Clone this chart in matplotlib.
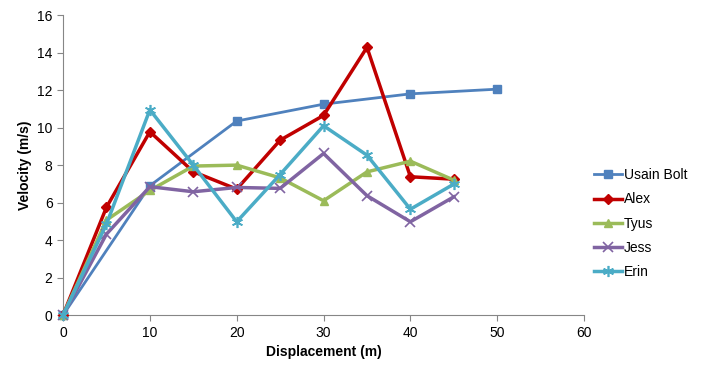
import matplotlib
matplotlib.use("Agg")
import matplotlib.pyplot as plt

plt.rcParams['font.family'] = ['Liberation Sans', 'DejaVu Sans']

bolt_x = [0, 10, 20, 30, 40, 50]
bolt_y = [0, 6.9, 10.35, 11.25, 11.8, 12.05]
others_x = [0, 5, 10, 15, 20, 25, 30, 35, 40, 45]
alex_y = [0, 5.75, 9.78, 7.65, 6.72, 9.33, 10.65, 14.28, 7.38, 7.25]
tyus_y = [0, 5.07, 6.65, 7.95, 8.0, 7.32, 6.1, 7.64, 8.21, 7.2]
jess_y = [0, 4.32, 6.85, 6.58, 6.81, 6.76, 8.62, 6.37, 4.98, 6.31]
erin_y = [0, 4.85, 10.95, 8.0, 4.98, 7.5, 10.1, 8.53, 5.65, 6.99]

fig = plt.figure(figsize=(7.08, 3.77), dpi=100)
ax = fig.add_axes([0.089, 0.164, 0.736, 0.796])

ax.plot(bolt_x, bolt_y, color='#4F81BD', lw=2, marker='s', ms=6, label='Usain Bolt', clip_on=False, zorder=3)
ax.plot(others_x, alex_y, color='#C00000', lw=2.5, marker='D', ms=5, label='Alex', clip_on=False, zorder=3)
ax.plot(others_x, tyus_y, color='#9BBB59', lw=2.5, marker='^', ms=6, label='Tyus', clip_on=False, zorder=3)
ax.plot(others_x, jess_y, color='#8064A2', lw=2.5, marker='x', ms=7, mew=1.2, label='Jess', clip_on=False, zorder=3)
ax.plot(others_x, erin_y, color='#4BACC6', lw=2.5, marker=(6, 2, 0), ms=8, mew=1.2, label='Erin', clip_on=False, zorder=3)

ax.set_xlim(0, 60)
ax.set_ylim(0, 16)
ax.set_xticks(range(0, 61, 10))
ax.set_yticks(range(0, 17, 2))
for s in ['top', 'right']:
    ax.spines[s].set_visible(False)
for s in ['left', 'bottom']:
    ax.spines[s].set_color('#868686')
ax.tick_params(axis='both', colors='#868686', labelcolor='black', labelsize=10, direction='out', length=4)
ax.set_xlabel('Displacement (m)', fontweight='bold', fontsize=10)
ax.set_ylabel('Velocity (m/s)', fontweight='bold', fontsize=10)

ax.legend(loc='center left', bbox_to_anchor=(0.995, 0.305), frameon=False, fontsize=10,
          handlelength=2.0, labelspacing=0.74, handletextpad=0.15)

fig.savefig('out.png', dpi=100)
